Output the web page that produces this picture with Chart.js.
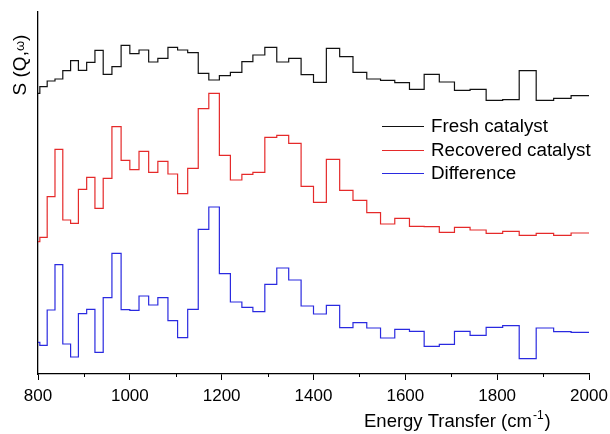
<!DOCTYPE html>
<html>
<head>
<meta charset="utf-8">
<script src="https://cdn.jsdelivr.net/npm/chart.js@4/dist/chart.umd.min.js"></script>
<style>
  html, body { margin: 0; padding: 0; background: #fff; }
  canvas { display: block; }
</style>
</head>
<body>
<canvas id="c" width="610" height="434"></canvas>
<script>
const binEdges = [800, 804, 820, 837, 854, 871, 888, 906, 924, 942, 961, 981, 1000, 1020, 1041, 1061,
  1083, 1104, 1126, 1149, 1172, 1195, 1219, 1244, 1268, 1294, 1320, 1346, 1373, 1400, 1428, 1457,
  1486, 1516, 1546, 1577, 1609, 1641, 1674, 1707, 1741, 1776, 1812, 1848, 1885, 1923, 1961, 2000];

// Intensities (arbitrary units, offset traces) for each bin
const freshCatalyst = [280.7, 287.3, 293, 295, 303.3, 313.3, 303.7, 311.7, 323.7, 299.7, 307.3, 328.7,
  320.3, 324, 312, 315.7, 326.7, 324, 321.3, 300.7, 294, 298.3, 301.7, 312.3, 319, 326.7, 312, 315.7,
  299.3, 291.7, 325.7, 317.3, 301.7, 295, 293.7, 291.3, 284.7, 299.7, 292, 283.7, 284.7, 273.7, 274.3,
  303.3, 273.7, 275.7, 278.3];

const recoveredCatalyst = [132.3, 136.7, 177.3, 224.7, 154, 150.7, 184.7, 196.7, 165.7, 195.7, 247.3,
  213.7, 204.3, 222.7, 201.7, 212.7, 200, 180.3, 205.7, 265.3, 280.7, 218.7, 194, 199.7, 201.7, 236.7,
  238.7, 230.7, 187.7, 171.7, 214.7, 183.7, 173.7, 161.3, 150, 155.7, 147.7, 147.3, 141.7, 146.7, 144,
  140.7, 142.7, 138.7, 140.7, 138.7, 141];

const difference = [31.7, 28.7, 64, 109.3, 30, 17, 60.3, 64.7, 21.7, 76.3, 120.7, 64.3, 63.7, 78, 69,
  76.3, 53.3, 36.3, 64.7, 144.7, 167, 100.3, 72, 66.7, 62.3, 89.7, 106, 94, 68, 60, 68.7, 46.3, 51.3,
  46, 36, 44.7, 42.7, 27.7, 29.7, 42.7, 38.7, 46.7, 48.3, 15.3, 46, 42.3, 41.7];

const seriesLabels = ['Fresh catalyst', 'Recovered catalyst', 'Difference'];
const majorTicks = [800, 1000, 1200, 1400, 1600, 1800, 2000];
const minorTicks = [900, 1100, 1300, 1500, 1700, 1900];

function toPoints(vals) {
  return binEdges.map((x, i) => ({ x: x, y: vals[Math.min(i, vals.length - 1)] }));
}

const FONT = 'Liberation Sans, Arial, sans-serif';

const extras = {
  id: 'extras',
  afterDraw(chart) {
    const ctx = chart.ctx;
    const xs = chart.scales.x;
    const area = chart.chartArea;
    ctx.save();
    // minor ticks
    ctx.strokeStyle = '#000';
    ctx.lineWidth = 1;
    minorTicks.forEach(v => {
      const px = Math.round(xs.getPixelForValue(v)) + 0.5;
      ctx.beginPath();
      ctx.moveTo(px, area.bottom);
      ctx.lineTo(px, area.bottom + 3);
      ctx.stroke();
    });
    // x-axis title
    ctx.fillStyle = '#000';
    ctx.textBaseline = 'alphabetic';
    ctx.textAlign = 'left';
    ctx.font = '18.5px ' + FONT;
    const t1 = 'Energy Transfer (cm';
    let x0 = 364, y0 = 427;
    ctx.fillText(t1, x0, y0);
    let w = ctx.measureText(t1).width;
    ctx.font = '12px ' + FONT;
    ctx.fillText('-1', x0 + w + 1, y0 - 8);
    const w2 = ctx.measureText('-1').width;
    ctx.font = '18.5px ' + FONT;
    ctx.fillText(')', x0 + w + w2 + 2, y0);
    // y-axis title
    ctx.save();
    ctx.translate(26, 65);
    ctx.rotate(-Math.PI / 2);
    ctx.textAlign = 'left';
    ctx.font = '19px ' + FONT;
    const s1 = 'S (Q,';
    const sw = ctx.measureText(s1).width;
    const s2 = 'ω';
    ctx.font = '13px ' + FONT;
    const ow = ctx.measureText(s2).width;
    ctx.font = '19px ' + FONT;
    const total = sw + ow + ctx.measureText(')').width;
    let sx = -total / 2;
    ctx.fillText(s1, sx, 0);
    ctx.font = '13px ' + FONT;
    ctx.fillText(s2, sx + sw, -2);
    ctx.font = '19px ' + FONT;
    ctx.fillText(')', sx + sw + ow, 0);
    ctx.restore();
    // legend
    const rows = [126, 149.5, 172.5];
    chart.data.datasets.forEach((ds, i) => {
      const y = Math.round(rows[i]) + 0.5;
      ctx.strokeStyle = ds.borderColor;
      ctx.lineWidth = 1;
      ctx.beginPath();
      ctx.moveTo(382, y);
      ctx.lineTo(424, y);
      ctx.stroke();
      ctx.fillStyle = '#000';
      ctx.font = '18.8px ' + FONT;
      ctx.textBaseline = 'middle';
      ctx.fillText(ds.label, 431, rows[i] + 1);
    });
    ctx.restore();
  }
};

const colors = ['#111111', '#e52a2a', '#2a2ae0'];
const seriesValues = [freshCatalyst, recoveredCatalyst, difference];

new Chart(document.getElementById('c'), {
  type: 'line',
  data: {
    datasets: seriesValues.map((vals, i) => ({
      label: seriesLabels[i],
      data: toPoints(vals),
      borderColor: colors[i],
      borderWidth: 1.2,
      stepped: 'before',
      pointRadius: 0,
      fill: false
    }))
  },
  options: {
    responsive: false,
    animation: false,
    devicePixelRatio: 1,
    layout: { padding: { left: 38, right: 21, top: 12, bottom: 0 } },
    plugins: { legend: { display: false }, tooltip: { enabled: false } },
    scales: {
      x: {
        type: 'linear',
        min: 800, max: 2000,
        afterBuildTicks(s) { s.ticks = majorTicks.map(v => ({ value: v })); },
        afterFit(s) { s.height = 60; s.paddingLeft = 0; s.paddingRight = 0; },
        ticks: { color: '#000', font: { size: 17, family: FONT }, padding: 6, maxRotation: 0, autoSkip: false,
                 callback: v => String(v) },
        grid: { drawOnChartArea: false, drawTicks: true, tickLength: 6, color: '#000', lineWidth: 1 },
        border: { color: '#000', width: 1.3 }
      },
      y: {
        min: 0, max: 362,
        afterFit(s) { s.width = 0; s.paddingTop = 0; s.paddingBottom = 0; },
        ticks: { display: false },
        grid: { display: false },
        border: { color: '#000', width: 1.3 }
      }
    }
  },
  plugins: [extras]
});
</script>
</body>
</html>
